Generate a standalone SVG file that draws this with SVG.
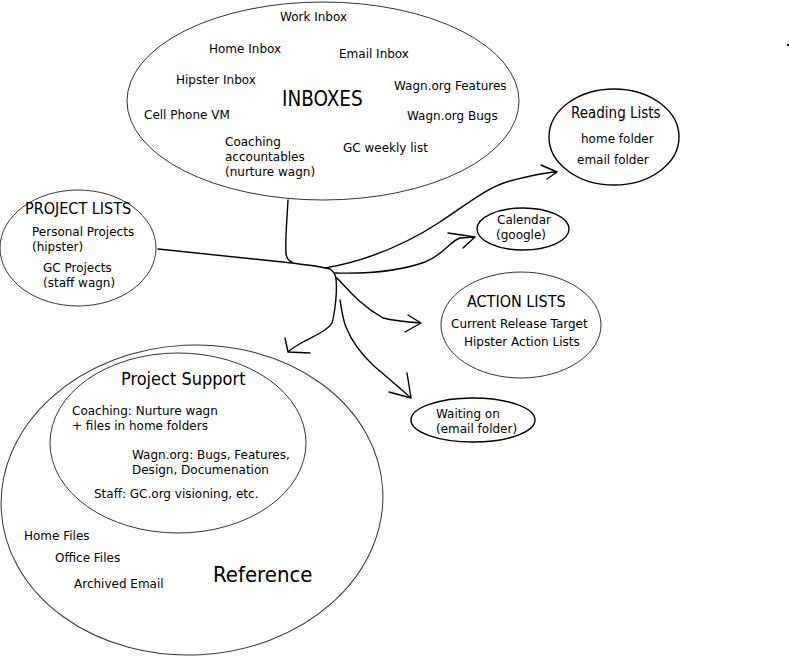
<svg xmlns="http://www.w3.org/2000/svg" width="789" height="659" viewBox="0 0 789 659">
<style>
.thin{fill:none;stroke:#333;stroke-width:1}
.bold{fill:none;stroke:#000;stroke-width:1.4}
.c{fill:none;stroke:#000;stroke-width:1.4;stroke-linecap:round;stroke-linejoin:round}
text{font-family:"DejaVu Sans","Liberation Sans",sans-serif;font-size:12px;fill:#000}
.t{font-family:"DejaVu Sans Condensed","DejaVu Sans","Liberation Sans Narrow",sans-serif;font-stretch:condensed}
</style>
<rect width="789" height="659" fill="#fff"/>
<g id="connectors">
<path class="c" d="M288,200 C287,220 285,240 286,254 C287,259 289,261 292,262"/>
<path class="c" d="M158,249 L292,263 C305,265 320,266 330,269 C333,271 335,273 336,278"/>
<path class="c" d="M325,268 C360,262 400,248 440,222 C470,202 490,186 510,181 C525,177 540,173 556,172 M541,165 L557,172 L547,179"/>
<path class="c" d="M335,273 C370,274 400,271 425,262 C445,254 450,241 460,238 L475,237 M448,233 L475,237 L463,248"/>
<path class="c" d="M337,278 C350,292 362,306 383,318 C395,321 408,322 421,323 M408,315 L421,323 L405,332"/>
<path class="c" d="M336,278 C337,290 336,300 335,307 C334,315 333,320 332,323 C328,330 318,334 303,342 C296,346 291,349 288,352 M285,338 L288,352 L310,353"/>
<path class="c" d="M340,300 C342,312 343,320 346,327 C352,342 362,355 374,366 C388,378 400,388 411,398 M407,373 L411,398 L389,392"/>
</g>
<g id="inboxes">
<ellipse class="thin" cx="323" cy="101" rx="196" ry="99"/>
<text x="280" y="21">Work Inbox</text>
<text x="209" y="53">Home Inbox</text>
<text x="339" y="58">Email Inbox</text>
<text x="176" y="84">Hipster Inbox</text>
<text class="t" x="282" y="106" style="font-size:20.5px">INBOXES</text>
<text x="394" y="90">Wagn.org Features</text>
<text x="144" y="119">Cell Phone VM</text>
<text x="407" y="120">Wagn.org Bugs</text>
<text x="225" y="146">Coaching</text>
<text x="225" y="161">accountables</text>
<text x="225" y="176">(nurture wagn)</text>
<text x="343" y="152">GC weekly list</text>
</g>
<g id="project-lists">
<ellipse class="thin" cx="78" cy="248" rx="78" ry="58"/>
<text class="t" x="25" y="214" style="font-size:16px">PROJECT LISTS</text>
<text x="32" y="236">Personal Projects</text>
<text x="32" y="251">(hipster)</text>
<text x="43" y="272">GC Projects</text>
<text x="43" y="287">(staff wagn)</text>
</g>
<g id="reading-lists">
<ellipse class="bold" cx="614" cy="137" rx="65" ry="48"/>
<text class="t" x="571" y="118" style="font-size:15px">Reading Lists</text>
<text x="581" y="143">home folder</text>
<text x="577" y="164">email folder</text>
</g>
<g id="calendar">
<ellipse class="bold" cx="523" cy="229" rx="46" ry="21"/>
<text x="497" y="224">Calendar</text>
<text x="496" y="239">(google)</text>
</g>
<g id="action-lists">
<ellipse class="thin" cx="521" cy="325" rx="80" ry="53"/>
<text class="t" x="467" y="307" style="font-size:16px">ACTION LISTS</text>
<text x="451" y="328">Current Release Target</text>
<text x="464" y="346">Hipster Action Lists</text>
</g>
<g id="waiting-on">
<ellipse class="bold" cx="473" cy="420" rx="62" ry="22"/>
<text x="436" y="418">Waiting on</text>
<text x="436" y="433">(email folder)</text>
</g>
<g id="reference">
<ellipse class="thin" cx="192" cy="500" rx="191" ry="155" transform="rotate(-3 192 500)"/>
<text class="t" x="213" y="582" style="font-size:22px">Reference</text>
<text x="24" y="540">Home Files</text>
<text x="55" y="562">Office Files</text>
<text x="74" y="588">Archived Email</text>
</g>
<g id="project-support">
<ellipse class="thin" cx="178" cy="443" rx="128" ry="90"/>
<text class="t" x="121" y="385" style="font-size:18px">Project Support</text>
<text x="72" y="415">Coaching: Nurture wagn</text>
<text x="72" y="430">+ files in home folders</text>
<text x="132" y="459">Wagn.org: Bugs, Features,</text>
<text x="132" y="474">Design, Documenation</text>
<text x="94" y="498">Staff: GC.org visioning, etc.</text>
</g>
<rect x="787" y="44" width="2" height="2" fill="#000"/>
</svg>
